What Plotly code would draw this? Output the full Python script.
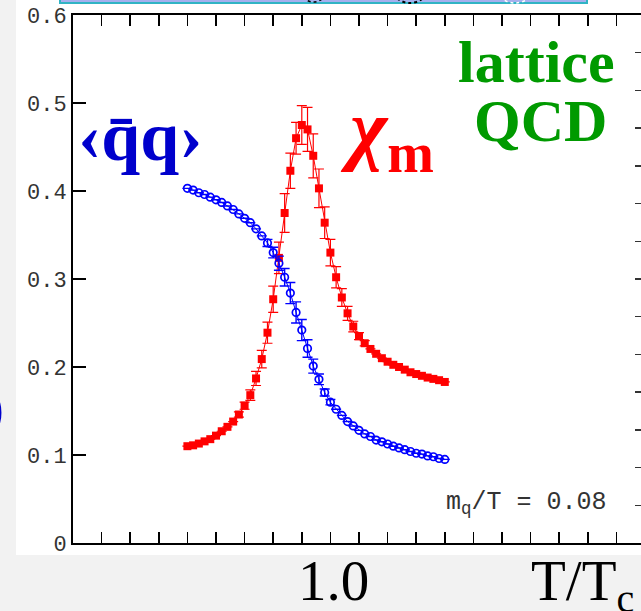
import plotly.graph_objects as go

# ---------------- data ----------------
t_over_tc = [0.880, 0.884, 0.888, 0.892, 0.896, 0.900, 0.904, 0.908, 0.912, 0.916,
             0.920, 0.924, 0.928, 0.932, 0.936, 0.940, 0.944, 0.948, 0.952, 0.956,
             0.960, 0.964, 0.968, 0.972, 0.976, 0.980, 0.984, 0.988, 0.992, 0.996,
             1.000, 1.004, 1.008, 1.012, 1.016, 1.020, 1.024, 1.028, 1.032, 1.036,
             1.040, 1.044, 1.048, 1.052, 1.056, 1.060]

pbp = [0.403, 0.401, 0.398, 0.396, 0.393, 0.390, 0.387, 0.383, 0.379, 0.374,
       0.369, 0.364, 0.357, 0.349, 0.341, 0.330, 0.318, 0.302, 0.284, 0.262,
       0.242, 0.221, 0.201, 0.186, 0.171, 0.160, 0.152, 0.145, 0.138, 0.133,
       0.128, 0.124, 0.121, 0.117, 0.115, 0.1125, 0.110, 0.108, 0.106, 0.104,
       0.102, 0.101, 0.099, 0.098, 0.096, 0.095]
pbp_err = [0, 0, 0, 0, 0, 0, 0, 0, 0, 0,
           0, 0, 0, 0, 0.004, 0.006, 0.008, 0.010, 0.012, 0.012,
           0.012, 0.010, 0.008, 0.006, 0.004, 0.003, 0, 0, 0, 0,
           0, 0, 0, 0, 0, 0, 0, 0, 0, 0,
           0, 0, 0, 0, 0, 0]

chi_m = [0.110, 0.111, 0.113, 0.1155, 0.118, 0.122, 0.127, 0.132, 0.138, 0.146,
         0.156, 0.168, 0.187, 0.209, 0.239, 0.277, 0.324, 0.375, 0.423, 0.460,
         0.475, 0.470, 0.440, 0.403, 0.364, 0.330, 0.302, 0.279, 0.261, 0.246,
         0.235, 0.227, 0.2205, 0.215, 0.210, 0.206, 0.2025, 0.200, 0.197, 0.194,
         0.192, 0.190, 0.188, 0.1865, 0.185, 0.183]
chi_err = [0, 0, 0, 0, 0, 0, 0, 0, 0, 0.003,
           0.004, 0.006, 0.008, 0.010, 0.012, 0.015, 0.018, 0.022, 0.020, 0.018,
           0.022, 0.025, 0.025, 0.022, 0.018, 0.015, 0.012, 0.010, 0.008, 0.006,
           0.004, 0.003, 0, 0, 0, 0, 0, 0, 0, 0,
           0, 0, 0, 0, 0, 0]

y_tickvals = [0, 0.1, 0.2, 0.3, 0.4, 0.5, 0.6]
y_ticktext = ["0", "0.1", "0.2", "0.3", "0.4", "0.5", "0.6"]

# ---------------- layout geometry ----------------
W, H = 641, 611
ML, MR, MT, MB = 73, 0, 15, 68
PW, PH = W - ML - MR, H - MT - MB


def px(x):
    return (x - ML) / PW


def py(y):
    return (H - MB - y) / PH


fig = go.Figure()

fig.add_trace(go.Scatter(
    x=t_over_tc, y=chi_m, mode="lines+markers",
    line=dict(color="#ff0000", width=1),
    marker=dict(symbol="square", size=8, color="#ff0000"),
    error_y=dict(type="data", array=chi_err, color="#ff0000", thickness=1.2, width=5),
    showlegend=False, hoverinfo="skip"))

fig.add_trace(go.Scatter(
    x=t_over_tc, y=pbp, mode="lines+markers",
    line=dict(color="#0000ff", width=1),
    marker=dict(symbol="circle-open", size=7.5, color="#0000ff", line=dict(width=1.7)),
    error_y=dict(type="data", array=pbp_err, color="#0000ff", thickness=1.4, width=5),
    showlegend=False, hoverinfo="skip"))

# helper (draws nothing) so that the right-hand tick axis is laid out
fig.add_trace(go.Scatter(
    x=t_over_tc, y=[None] * len(t_over_tc), yaxis="y2", mode="lines",
    showlegend=False, hoverinfo="skip"))

serif = "Liberation Serif"
mono = "Liberation Mono"

annotations = [
    dict(text="<b>‹q̄q›</b>", x=px(140), y=py(136), font=dict(family=serif, size=70, color="#0000cc")),
    dict(text="<b><i>χ</i><sub>m</sub></b>", x=px(387), y=py(134), font=dict(family=serif, size=80, color="#ff0000")),
    dict(text="<b>lattice</b>", x=px(536), y=py(62), font=dict(family=serif, size=60, color="#009a00")),
    dict(text="<b>QCD</b>", x=px(540), y=py(121), font=dict(family=serif, size=60, color="#009a00")),
    dict(text="m<sub>q</sub>/T = 0.08", x=px(526), y=py(503), font=dict(family=mono, size=25, color="#333333")),
    dict(text="1.0", x=px(333), y=py(580), font=dict(family=serif, size=57, color="#000000")),
    dict(text="T/T<sub>c</sub>", x=px(582), y=py(585), font=dict(family=serif, size=57, color="#000000")),
    dict(text="<b>)</b>", x=px(6), y=py(408), xanchor="right", font=dict(family=serif, size=50, color="#0000cc")),
]
for a in annotations:
    a.setdefault("xanchor", "center")
    a.setdefault("yanchor", "middle")
    a.update(xref="paper", yref="paper", showarrow=False)

shapes = [
    # white slide panel
    dict(type="rect", xref="paper", yref="paper", x0=px(16), x1=px(700), y0=py(555), y1=py(-30),
         fillcolor="#ffffff", line=dict(width=0), layer="below"),
    # partial box at the top edge
    dict(type="rect", xref="paper", yref="paper", x0=px(60), x1=px(587), y0=py(3), y1=py(-30),
         fillcolor="#a6b0ee", line=dict(color="#30b4c4", width=2), layer="above"),
    dict(type="circle", xref="paper", yref="paper", x0=px(300), x1=px(327), y0=py(2), y1=py(-25),
         line=dict(color="#000000", width=1.5, dash="dot"), layer="above"),
    dict(type="circle", xref="paper", yref="paper", x0=px(390), x1=px(430), y0=py(3), y1=py(-37),
         line=dict(color="#000000", width=2, dash="dot"), layer="above"),
    dict(type="circle", xref="paper", yref="paper", x0=px(493), x1=px(537), y0=py(3), y1=py(-41),
         line=dict(color="#ffffff", width=1.5, dash="dot"), layer="above"),
]

fig.update_layout(
    width=W, height=H,
    margin=dict(l=ML, r=MR, t=MT, b=MB, autoexpand=False),
    paper_bgcolor="#f2f2f2", plot_bgcolor="#ffffff",
    annotations=annotations, shapes=shapes,
    xaxis=dict(range=[0.8, 0.8 + PW / 1430], tick0=0.8, dtick=0.2, automargin=False,
               ticks="inside", ticklen=11, tickwidth=1.5, tickcolor="#000000",
               showticklabels=False, showgrid=False, zeroline=False,
               showline=True, linewidth=2, linecolor="#000000", mirror="allticks",
               minor=dict(dtick=0.02, tick0=0.8, ticks="inside", ticklen=5, tickwidth=1.5,
                          tickcolor="#000000", showgrid=False)),
    yaxis=dict(range=[0, 0.6], tickvals=y_tickvals, ticktext=y_ticktext, automargin=False,
               ticks="inside", ticklen=13, tickwidth=1.5, tickcolor="#000000",
               tickfont=dict(family=mono, size=22, color="#333333"),
               showgrid=False, zeroline=False,
               showline=True, linewidth=2, linecolor="#000000"),
    yaxis2=dict(range=[0, 14], dtick=1, overlaying="y", anchor="x", side="right", automargin=False,
                ticks="inside", ticklen=6, tickwidth=1.5, tickcolor="#333333",
                showticklabels=False, showgrid=False, zeroline=False, showline=False),
)

fig.write_html(
    "out.html",
    config={"displayModeBar": False, "staticPlot": True},
    post_script="document.body.style.margin='0';document.body.style.overflow='hidden';"
                "document.body.style.background='#f2f2f2';",
)
